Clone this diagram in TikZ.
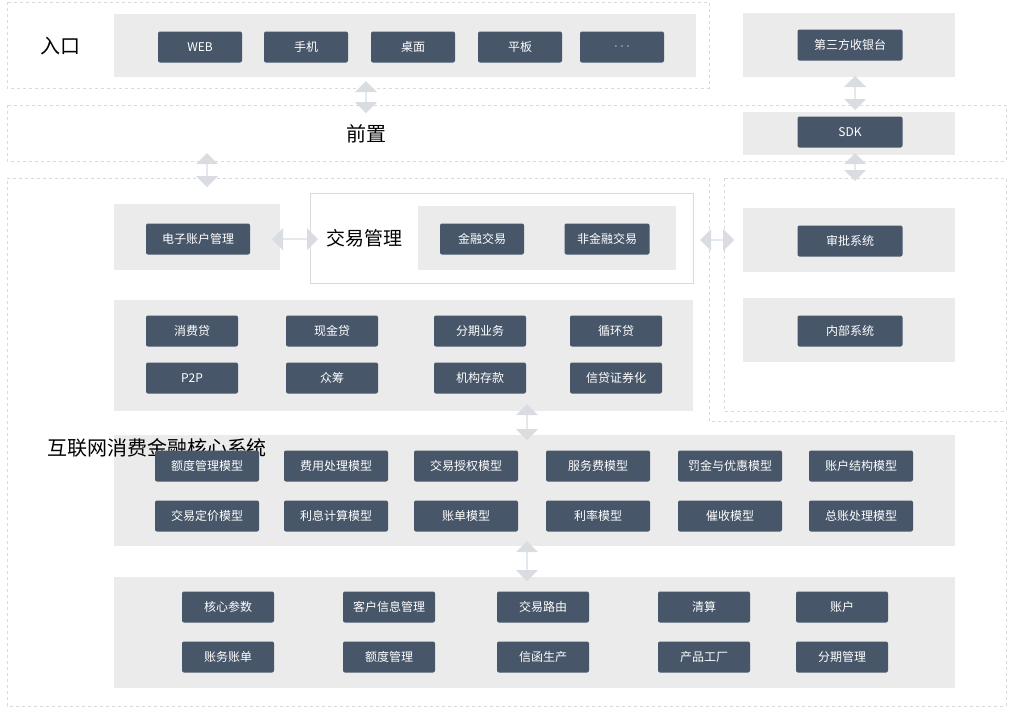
\documentclass[tikz,border=0pt]{standalone}
\usepackage{fontspec}
\setmainfont{Noto Sans CJK SC}
\usetikzlibrary{calc, positioning, shapes, arrows}
\definecolor{boxc}{HTML}{475669}
\definecolor{panelc}{HTML}{EBEBEC}
\definecolor{dashc}{HTML}{DADADA}
\definecolor{arrc}{HTML}{D9DDE1}

\begin{document}
\begin{tikzpicture}[x=1pt, y=-1pt,
	mod/.style={fill=boxc, rounded corners=2pt, text=white, font=\fontsize{12}{12}\selectfont, minimum height=31pt, inner sep=0pt},
	panel/.style={fill=panelc},
	zone/.style={draw=dashc, dashed},
	dbl/.style={double arrow, fill=arrc, minimum width=22pt, double arrow head extend=3pt, inner sep=0pt}]
		
		\useasboundingbox (0,0) rectangle (1010,710);
		
		% Zones
		\draw[zone] (7,2) rectangle (709,88);
		\draw[zone] (7,105) rectangle (1006,161);
		\draw[zone] (724,178) rectangle (1006,411);
		\draw[zone] (7,178) -- (709,178) -- (709,421) -- (1006,421) -- (1006,706) -- (7,706) -- cycle;
		
		% Panels
		\fill[panel] (114,14) rectangle (696,77);
		\fill[panel] (743,13) rectangle (955,77);
		\fill[panel] (743,112) rectangle (955,155);
		\fill[panel] (743,208) rectangle (955,272);
		\fill[panel] (743,298) rectangle (955,362);
		\fill[panel] (114,204) rectangle (280,270);
		\draw[draw=dashc, fill=white] (310,193) rectangle (693,283);
		\fill[panel] (418,206) rectangle (676,270);
		\fill[panel] (114,300) rectangle (693,411);
		\fill[panel] (114,435) rectangle (955,546);
		\fill[panel] (114,577) rectangle (955,688);
		
		% Labels
		\node[font=\fontsize{20}{20}\selectfont] (entry) at (60,46) {入口};
		\node[font=\fontsize{20}{20}\selectfont] (front) at (366,134) {前置};
		\node[font=\fontsize{19}{19}\selectfont] (trade) at (364,238) {交易管理};
		\node[font=\fontsize{20}{24}\selectfont, text width=22pt, align=center] (core) at (58,448) {互联网消费金融核心系统};
		
		% Entry
		\foreach \x/\t [count=\i] in {200/WEB, 306/手机, 413/桌面, 520/平板, 622/$\cdot\cdot\cdot$}
		\node[mod, minimum width=84pt] (in\i) at (\x,47) {\t};
		
		% Right side
		\node[mod, minimum width=105pt] (cashier) at (850,45) {第三方收银台};
		\node[mod, minimum width=105pt] (sdk) at (850,132) {SDK};
		\node[mod, minimum width=105pt] (audit) at (850,241) {审批系统};
		\node[mod, minimum width=105pt] (inner) at (850,331) {内部系统};
		
		% Trade
		\node[mod, minimum width=104pt] (eacc) at (198,239) {电子账户管理};
		\node[mod, minimum width=84pt] (fin) at (482,239) {金融交易};
		\node[mod, minimum width=85pt] (nonfin) at (607,239) {非金融交易};
		
		% Products
		\foreach \x/\a/\b [count=\i] in {192/消费贷/P2P, 332/现金贷/众筹, 480/分期业务/机构存款, 616/循环贷/信贷证券化}{
		\node[mod, minimum width=92pt] (pa\i) at (\x,331) {\a};
		\node[mod, minimum width=92pt] (pb\i) at (\x,378) {\b};
		}
		
		% Models
		\foreach \x/\a/\b [count=\i] in {207/额度管理模型/交易定价模型, 336/费用处理模型/利息计算模型, 466/交易授权模型/账单模型, 598/服务费模型/利率模型, 730/罚金与优惠模型/催收模型, 861/账户结构模型/总账处理模型}{
		\node[mod, minimum width=104pt] (ma\i) at (\x,466) {\a};
		\node[mod, minimum width=104pt] (mb\i) at (\x,516) {\b};
		}
		
		% Base
		\foreach \x/\a/\b [count=\i] in {228/核心参数/账务账单, 389/客户信息管理/额度管理, 543/交易路由/信函生产, 704/清算/产品工厂, 842/账户/分期管理}{
		\node[mod, minimum width=92pt] (ba\i) at (\x,607) {\a};
		\node[mod, minimum width=92pt] (bb\i) at (\x,657) {\b};
		}
		
		% Arrows
		\node[dbl, rotate=90, minimum height=32pt] (a1) at (366,97) {};
		\node[dbl, rotate=90, minimum height=34pt] (a2) at (207,170) {};
		\node[dbl, rotate=90, minimum height=34pt] (a3) at (855,93) {};
		\node[dbl, rotate=90, minimum height=28pt] (a4) at (855,167) {};
		\node[dbl, minimum height=46pt] (a5) at (295,239) {};
		\node[dbl, minimum height=34pt] (a6) at (717,240) {};
		\node[dbl, rotate=90, minimum height=36pt] (a7) at (527,422) {};
		\node[dbl, rotate=90, minimum height=40pt] (a8) at (527,561) {};
		
	\end{tikzpicture}
\end{document}
